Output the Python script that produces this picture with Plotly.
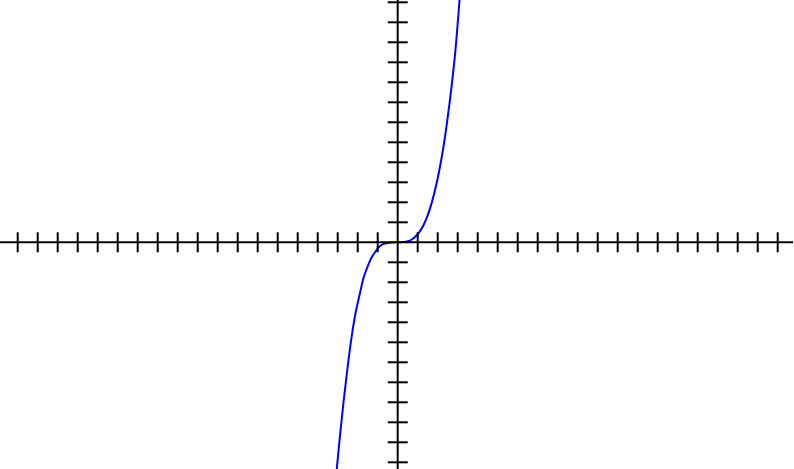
import plotly.graph_objects as go

# Curve samples (axis units, 1 unit = one tick)
curve_x = [-3.3, -3.1, -2.9, -2.7, -2.5, -2.3, -2.1, -1.9, -1.7, -1.5, -1.3, -1.1,
           -0.9, -0.7, -0.5, -0.3, -0.1, 0.1, 0.3, 0.5, 0.7, 0.9, 1.1, 1.3, 1.5,
           1.7, 1.9, 2.1, 2.3, 2.5, 2.7, 2.9, 3.1, 3.3]
curve_y = [-14.4, -11.9, -9.8, -7.9, -6.2, -4.7, -3.5, -2.6, -1.75, -1.2, -0.75, -0.45,
           -0.2, -0.08, -0.03, -0.01, 0.0, 0.0, 0.01, 0.05, 0.14, 0.3, 0.53, 0.88, 1.35,
           1.97, 2.75, 3.7, 4.85, 6.25, 7.85, 9.75, 12.2, 14.4]

x_ticks = [v for v in range(-19, 20) if v != 0]
y_ticks = [v for v in range(-11, 13) if v != 0]

X_MIN, X_MAX = -19.885, 19.815
Y_MIN, Y_MAX = -11.335, 12.115
TICK_HALF = 0.5

fig = go.Figure()
fig.add_trace(go.Scatter(x=curve_x, y=curve_y, mode="lines",
                         line=dict(color="#0000ff", width=2, shape="spline"),
                         hoverinfo="skip", showlegend=False))

shapes = []
blk = dict(color="black", width=2)
shapes.append(dict(type="line", xref="x", yref="y", x0=X_MIN, x1=19.77, y0=0, y1=0, line=blk))
shapes.append(dict(type="line", xref="x", yref="y", x0=0, x1=0, y0=Y_MIN, y1=Y_MAX, line=blk))
for t in x_ticks:
    shapes.append(dict(type="line", xref="x", yref="y", x0=t, x1=t,
                       y0=-TICK_HALF, y1=TICK_HALF, line=blk))
for t in y_ticks:
    shapes.append(dict(type="line", xref="x", yref="y", x0=-TICK_HALF, x1=TICK_HALF,
                       y0=t, y1=t, line=blk))

fig.update_layout(
    width=794, height=469,
    margin=dict(l=0, r=0, t=0, b=0),
    paper_bgcolor="white", plot_bgcolor="white",
    shapes=shapes,
    xaxis=dict(range=[X_MIN, X_MAX], visible=False, showgrid=False, zeroline=False),
    yaxis=dict(range=[Y_MIN, Y_MAX], visible=False, showgrid=False, zeroline=False),
)
fig.write_html("out.html", config={"displayModeBar": False})

# remove the browser's default page margin so the figure sits at the window corner
with open("out.html", "r", encoding="utf-8") as f:
    html = f.read()
html = html.replace("<head>", "<head><style>html,body{margin:0;padding:0;overflow:hidden;}</style>", 1)
with open("out.html", "w", encoding="utf-8") as f:
    f.write(html)
